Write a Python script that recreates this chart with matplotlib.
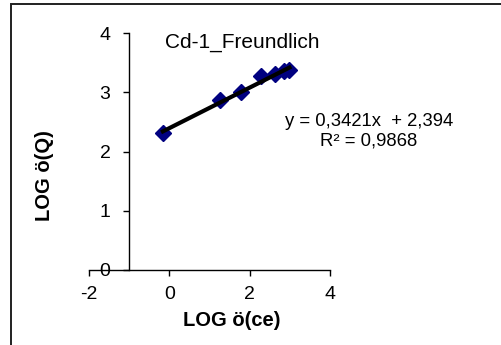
import numpy as np
import matplotlib
matplotlib.use("Agg")
import matplotlib.pyplot as plt
from matplotlib.patches import Rectangle

plt.rcParams['font.family'] = ['Liberation Sans', 'DejaVu Sans']
plt.rcParams['axes.unicode_minus'] = False

# points
log_ce = np.array([-0.16, 1.25, 1.78, 2.27, 2.62, 2.85, 2.99])
log_q = np.array([2.32, 2.87, 3.00, 3.27, 3.30, 3.36, 3.37])

# droite de tendance affichee
pente = 0.3421
ordonnee = 2.394
r2 = 0.9868

xticks = [-2, 0, 2, 4]
yticks = [0, 1, 2, 3, 4]

W, H = 502, 345
fig = plt.figure(figsize=(W / 100, H / 100), dpi=100)

# cadre de la zone graphique
fig.patches.append(Rectangle((11 / W, -0.2), 1.2, 1.2 - 4 / H,
                             transform=fig.transFigure, fill=False,
                             edgecolor='#202020', linewidth=1.4))

ax = fig.add_axes([89 / W, 1 - 270 / H, (330 - 89) / W, (270 - 33) / H])
ax.set_xlim(-2, 4)
ax.set_ylim(0, 4)

ax.plot(log_ce, log_q, linestyle='none', marker='D', markersize=8,
        color='#000080', zorder=3)
x0 = np.array([log_ce.min(), log_ce.max()])
ax.plot(x0, pente * x0 + ordonnee, color='black', linewidth=3, zorder=4)

ax.spines['top'].set_visible(False)
ax.spines['right'].set_visible(False)
ax.spines['left'].set_position(('data', -1))
for s in ('left', 'bottom'):
    ax.spines[s].set_linewidth(1.0)
ax.set_xticks(xticks)
ax.set_yticks(yticks)
ax.tick_params(direction='out', length=4.5, width=1, labelsize=14, colors='black')
ax.tick_params(axis='x', pad=7)
ax.tick_params(axis='y', pad=9)

fig.text(232 / W, 1 - 320 / H, "LOG ö(ce)", fontsize=14.5, fontweight='bold',
         ha='center', va='center')
fig.text(45 / W, 1 - 176 / H, "LOG ö(Q)", rotation=90, fontsize=14.5,
         fontweight='bold', ha='center', va='center')

fig.text(242 / W, 1 - 42 / H, "Cd-1_Freundlich", fontsize=15, ha='center', va='center')
fig.text(369 / W, 1 - 121 / H, "y = %s" % ("%.4fx  + %.3f" % (pente, ordonnee)).replace('.', ','),
         fontsize=13.3, ha='center', va='center')
fig.text(369 / W, 1 - 141 / H, ("R² = %.4f" % r2).replace('.', ','),
         fontsize=13.3, ha='center', va='center')

fig.savefig("out.png", dpi=100)
